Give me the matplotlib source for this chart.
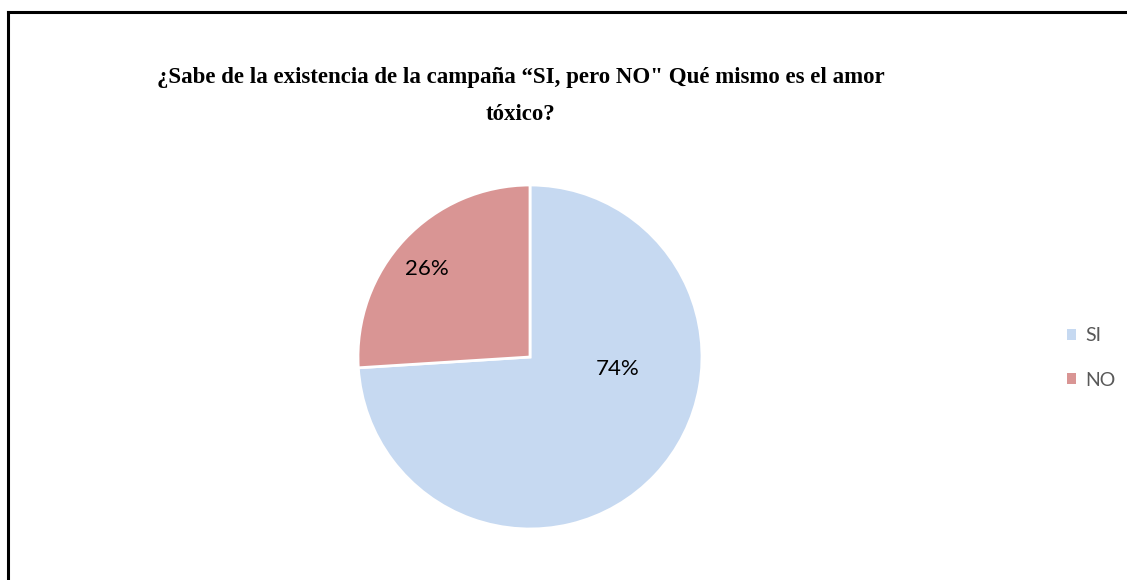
import matplotlib.pyplot as plt
from matplotlib.lines import Line2D

categories = ['SI', 'NO']
values = [74, 26]
colors = ['#C6D9F1', '#D99594']
title = '¿Sabe de la existencia de la campaña “SI, pero NO" Qué mismo es el amor\ntóxico?'

W, H = 1127, 580
fig = plt.figure(figsize=(W / 100, H / 100), dpi=100)

# pie: center ~ (530, 357), radius ~ 172 px
cx, cy, r = 530, 357, 172
ax = fig.add_axes([(cx - r) / W, (H - cy - r) / H, 2 * r / W, 2 * r / H])
wedges, texts, autotexts = ax.pie(values, colors=colors, startangle=90, counterclock=False,
                                  autopct='%1.0f%%', radius=1,
                                  wedgeprops=dict(edgecolor='white', linewidth=2),
                                  textprops=dict(fontsize=16, family='Lato', color='black'))
# Excel-style label placement
label_pos = [(0.51, -0.07), (-0.60, 0.51)]
for t, p in zip(autotexts, label_pos):
    t.set_position(p)
ax.set_xlim(-1, 1)
ax.set_ylim(-1, 1)
ax.set_aspect('equal')
ax.axis('off')

fig.text(521 / W, 1 - 95.5 / H, title, ha='center', va='center', fontsize=16.5,
         family='Liberation Serif', fontweight='bold', linespacing=2.0)

leg = fig.legend(wedges, categories, loc='center left', bbox_to_anchor=(1049 / W, 1 - 358 / H),
                 frameon=False, handlelength=0.5, handleheight=0.5, handletextpad=0.45,
                 labelspacing=1.4, prop=dict(family='Lato', size=14))
for t in leg.get_texts():
    t.set_color('#595959')
for h in leg.legend_handles:
    h.set_edgecolor('none')

# chart frame (only top and left edges visible)
fig.add_artist(Line2D([8 / W, 1], [1 - 12 / H, 1 - 12 / H], color='black', linewidth=2.2))
fig.add_artist(Line2D([8 / W, 8 / W], [0, 1 - 12 / H], color='black', linewidth=2.2))

fig.savefig('out.png', dpi=100)
